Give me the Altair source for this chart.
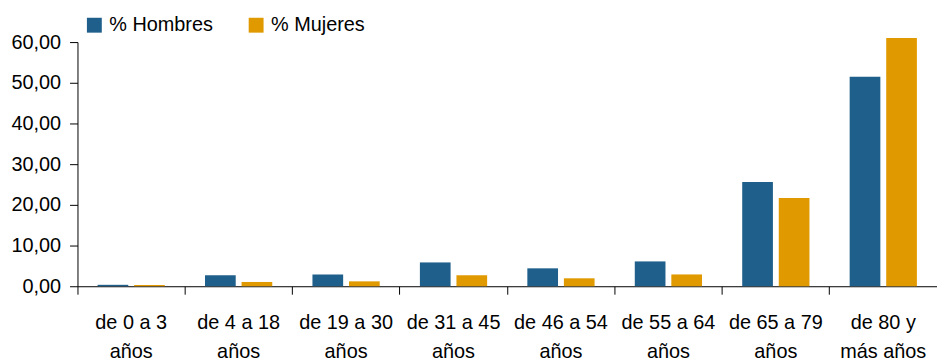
import altair as alt
import pandas as pd

categories = ["de 0 a 3\naños", "de 4 a 18\naños", "de 19 a 30\naños", "de 31 a 45\naños",
              "de 46 a 54\naños", "de 55 a 64\naños", "de 65 a 79\naños", "de 80 y\nmás años"]
hombres = [0.35, 2.7, 2.9, 5.85, 4.4, 6.1, 25.6, 51.5]
mujeres = [0.3, 1.05, 1.2, 2.7, 1.95, 2.9, 21.7, 61.0]
series = ["% Hombres", "% Mujeres"]
colors = ["#1f5f8b", "#e09a00"]
y_ticks = [0, 10, 20, 30, 40, 50, 60]

rows = []
for c, h, m in zip(categories, hombres, mujeres):
    rows.append({"cat": c, "serie": series[0], "val": h})
    rows.append({"cat": c, "serie": series[1], "val": m})
df = pd.DataFrame(rows)

FONT = "Liberation Sans"

chart = alt.Chart(df).mark_bar(clip=False).encode(
    x=alt.X("cat:N", sort=categories, title=None,
            scale=alt.Scale(paddingInner=0, paddingOuter=0),
            axis=alt.Axis(labelAngle=0, bandPosition=0, tickSize=8, labelPadding=19,
                          labelExpr="split(datum.label, '\\n')", labelLineHeight=29,
                          labelFontSize=20, labelFont=FONT, labelColor="#000",
                          domainColor="#000", tickColor="#000", labelBaseline="top")),
    xOffset=alt.XOffset("serie:N", sort=series,
                        scale=alt.Scale(paddingInner=0.16, paddingOuter=0.55)),
    y=alt.Y("val:Q", title=None,
            scale=alt.Scale(domain=[0, 60], nice=False),
            axis=alt.Axis(values=y_ticks, grid=False, tickSize=8, labelPadding=9,
                          labelExpr="replace(format(datum.value, '.2f'), '.', ',')",
                          labelFontSize=20, labelFont=FONT, labelColor="#000",
                          domainColor="#000", tickColor="#000")),
    color=alt.Color("serie:N", sort=series, title=None,
                    scale=alt.Scale(domain=series, range=colors),
                    legend=alt.Legend(orient="none", legendX=7, legendY=-27, direction="horizontal",
                                      symbolType="square", symbolSize=225, symbolStrokeWidth=0,
                                      labelFontSize=20, labelFont=FONT, labelColor="#000",
                                      labelOffset=5, columnPadding=33)),
).properties(
    width=866, height=246,
    padding={"left": 2, "top": 6, "right": 0, "bottom": 0},
).configure_view(stroke=None)

chart.save("out.html", embed_options={"renderer": "svg", "actions": False})
